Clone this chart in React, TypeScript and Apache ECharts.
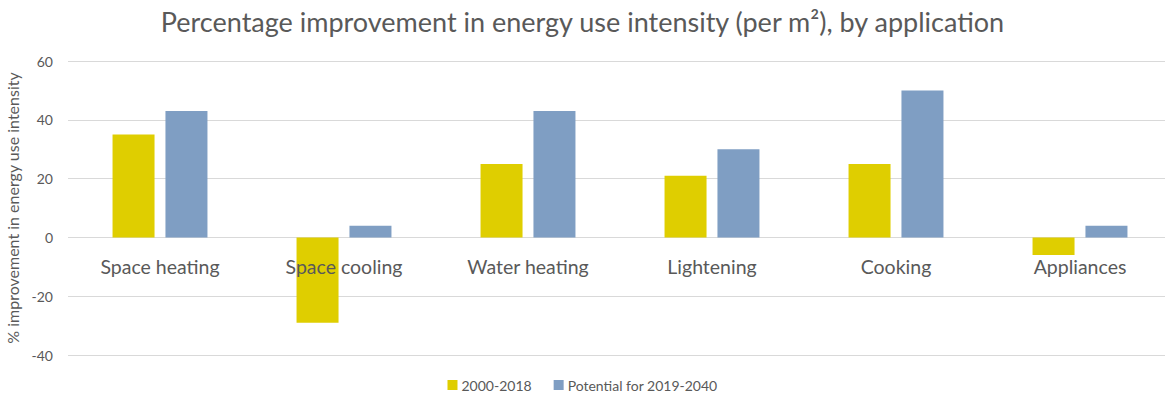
import React, { useEffect, useRef } from "react";
import * as echarts from "echarts";

const categories = ["Space heating", "Space cooling", "Water heating", "Lightening", "Cooking", "Appliances"];
const series2000_2018 = [35, -29, 25, 21, 25, -6];
const potential2019_2040 = [43, 4, 43, 30, 50, 4];
const seriesNames = ["2000-2018", "Potential for 2019-2040"];

const FONT = "Lato, 'Open Sans', sans-serif";

export default function App() {
  const ref = useRef<HTMLDivElement>(null);
  useEffect(() => {
    document.body.style.margin = "0";
    if (!ref.current) return;
    const chart = echarts.init(ref.current, undefined, { renderer: "svg" });
    chart.setOption({
      animation: false,
      backgroundColor: "#ffffff",
      textStyle: { fontFamily: FONT },
      title: {
        text: "Percentage improvement in energy use intensity (per m²), by application",
        left: "center",
        top: 3,
        textStyle: { fontFamily: FONT, fontSize: 27, fontWeight: "normal", color: "#595959" },
      },
      legend: {
        bottom: 2,
        left: "center",
        itemWidth: 10,
        itemHeight: 10,
        itemGap: 22,
        icon: "rect",
        textStyle: { fontFamily: FONT, fontSize: 14, color: "#595959", padding: [0, 0, 0, -1] },
        data: seriesNames,
      },
      grid: { left: 68, right: -7, top: 61, bottom: 44, containLabel: false, outerBoundsMode: "none" },
      xAxis: {
        type: "category",
        data: categories,
        z: 10,
        axisLine: { onZero: false, show: false },
        axisTick: { show: false },
        axisLabel: { fontFamily: FONT, fontSize: 19.5, color: "#595959", margin: -99, verticalAlign: "top" },
      },
      yAxis: {
        type: "value",
        min: -40,
        max: 60,
        interval: 20,
        name: "% improvement in energy use intensity",
        nameLocation: "middle",
        nameGap: 48,
        nameTextStyle: { fontFamily: FONT, fontSize: 16, color: "#595959" },
        axisLine: { show: false },
        axisTick: { show: false },
        axisLabel: { fontFamily: FONT, fontSize: 14, color: "#595959", margin: 15 },
        splitLine: { lineStyle: { color: "#d9d9d9" } },
      },
      series: [
        {
          name: seriesNames[0],
          type: "bar",
          data: series2000_2018,
          barWidth: 42,
          barGap: "26%",
          itemStyle: { color: "#DFCE00" },
        },
        {
          name: seriesNames[1],
          type: "bar",
          data: potential2019_2040,
          barWidth: 42,
          itemStyle: { color: "#7F9EC3" },
        },
      ],
    });
    return () => chart.dispose();
  }, []);
  return <div ref={ref} style={{ width: 1165, height: 399 }} />;
}
